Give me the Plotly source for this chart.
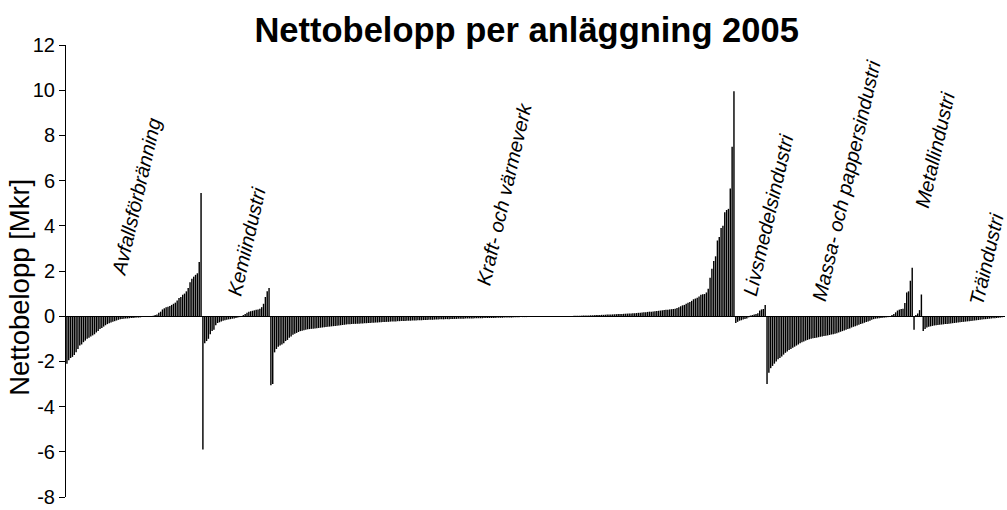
import plotly.graph_objects as go

# ---- data, each group sorted as drawn ----
groups = ["Avfallsförbränning", "Kemiindustri", "Kraft- och värmeverk",
          "Livsmedelsindustri", "Massa- och pappersindustri", "Metallindustri",
          "Övrigt", "Träindustri"]

avfall = [-2.1, -1.95, -1.85, -1.8, -1.72, -1.6, -1.45, -1.3, -1.25, -1.15,
          -1.08, -1.0, -0.95, -0.9, -0.85, -0.8, -0.72, -0.65, -0.57, -0.52,
          -0.46, -0.4, -0.35, -0.31, -0.28, -0.25, -0.22, -0.19, -0.16, -0.14,
          -0.12, -0.11, -0.1, -0.1, -0.09, -0.08, -0.08, -0.07, -0.06, -0.06,
          -0.05, -0.04, -0.04, -0.03, -0.02, -0.01,
          0.01, 0.02, 0.05, 0.08, 0.15, 0.2, 0.3, 0.35, 0.4, 0.42,
          0.45, 0.5, 0.55, 0.6, 0.7, 0.8, 0.85, 0.95, 1.0, 1.1,
          1.25, 1.5, 1.66, 1.75, 1.83, 1.9, 2.4, 5.45]

kemi = [-5.9, -1.2, -1.1, -1.0, -0.8, -0.65, -0.6, -0.4, -0.3, -0.27,
        -0.24, -0.2, -0.18, -0.16, -0.14, -0.13, -0.11, -0.1, -0.08, -0.06,
        -0.04, -0.02, 0.05, 0.1, 0.15, 0.2, 0.22, 0.24, 0.26, 0.28,
        0.3, 0.33, 0.4, 0.55, 0.85, 1.1, 1.25]

kraft = [-3.05, -3.0, -1.6, -1.45, -1.35, -1.3, -1.25, -1.2, -1.1, -1.05,
         -0.95, -0.9, -0.82, -0.78, -0.74, -0.7, -0.66, -0.64, -0.62, -0.6,
         -0.58, -0.57, -0.56, -0.55, -0.54, -0.53, -0.52, -0.51, -0.5, -0.49,
         -0.48, -0.47, -0.46, -0.45, -0.44, -0.43, -0.42, -0.41, -0.4, -0.39,
         -0.38, -0.37, -0.36, -0.36, -0.35, -0.34, -0.34, -0.33, -0.33, -0.32,
         -0.32, -0.31, -0.31, -0.3, -0.3, -0.29, -0.29, -0.28, -0.28, -0.27,
         -0.27, -0.26, -0.26, -0.25, -0.25, -0.24, -0.24, -0.23, -0.23, -0.22,
         -0.22, -0.21, -0.21, -0.21, -0.2, -0.2, -0.2, -0.19, -0.19, -0.19,
         -0.18, -0.18, -0.18, -0.17, -0.17, -0.17, -0.16, -0.16, -0.16, -0.15,
         -0.15, -0.15, -0.14, -0.14, -0.14, -0.13, -0.13, -0.13, -0.12, -0.12,
         -0.12, -0.12, -0.11, -0.11, -0.11, -0.11, -0.1, -0.1, -0.1, -0.1,
         -0.1, -0.09, -0.09, -0.09, -0.09, -0.09, -0.08, -0.08, -0.08, -0.08,
         -0.08, -0.08, -0.08, -0.07, -0.07, -0.07, -0.07, -0.06, -0.06, -0.06,
         -0.06, -0.06, -0.05, -0.05, -0.05, -0.05, -0.04, -0.04, -0.04, -0.04,
         -0.03, -0.03, -0.03, -0.03, -0.02, -0.02, -0.02, -0.02, -0.01, -0.01,
         -0.01, -0.01, -0.01, -0.005, -0.005, -0.005, -0.002, 0.0, 0.0, 0.002,
         0.005, 0.005, 0.01, 0.01, 0.01, 0.015, 0.015, 0.02, 0.02, 0.025,
         0.03, 0.03, 0.03, 0.035, 0.04, 0.04, 0.045, 0.05, 0.05, 0.055,
         0.06, 0.06, 0.065, 0.07, 0.07, 0.075, 0.08, 0.085, 0.09, 0.095,
         0.1, 0.1, 0.105, 0.11, 0.115, 0.12, 0.125, 0.13, 0.135, 0.14,
         0.15, 0.15, 0.16, 0.17, 0.18, 0.19, 0.2, 0.2, 0.21, 0.22,
         0.23, 0.24, 0.25, 0.26, 0.27, 0.28, 0.29, 0.3, 0.31, 0.32,
         0.33, 0.36, 0.4, 0.44, 0.48, 0.5, 0.55, 0.6, 0.63, 0.68,
         0.75, 0.78, 0.82, 0.87, 0.95, 0.97, 0.98, 1.05, 1.22, 1.7,
         2.1, 2.44, 2.65, 3.35, 3.5, 3.9, 4.0, 4.6, 4.7, 4.75,
         5.65, 7.5, 9.95]

livsmedel = [-0.3, -0.25, -0.2, -0.18, -0.15, -0.12, -0.1, -0.05, 0.03, 0.05,
             0.08, 0.1, 0.13, 0.25, 0.3, 0.32, 0.5]

massa = [-3.0, -2.5, -2.3, -2.2, -2.1, -2.0, -1.9, -1.85, -1.78, -1.7,
         -1.62, -1.56, -1.5, -1.45, -1.4, -1.35, -1.3, -1.25, -1.2, -1.15,
         -1.12, -1.08, -1.05, -1.02, -1.0, -0.98, -0.97, -0.95, -0.93, -0.91,
         -0.9, -0.88, -0.87, -0.85, -0.83, -0.81, -0.8, -0.78, -0.75, -0.72,
         -0.69, -0.66, -0.63, -0.6, -0.57, -0.54, -0.5, -0.47, -0.44, -0.41,
         -0.38, -0.35, -0.32, -0.29, -0.26, -0.24, -0.2, -0.16, -0.13, -0.11,
         -0.1, -0.09, -0.08, -0.07, -0.06, -0.05, -0.04, -0.03]

metall = [0.05, 0.1, 0.17, 0.25, 0.29, 0.32, 0.33, 0.58, 1.05, 1.1, 1.57, 2.14]

ovrigt = [-0.6, 0.05, 0.12, 0.27, 0.96]

tra = [-0.65, -0.57, -0.5, -0.47, -0.45, -0.43, -0.41, -0.4, -0.39, -0.38,
       -0.37, -0.36, -0.35, -0.34, -0.33, -0.32, -0.31, -0.3, -0.29, -0.28,
       -0.27, -0.26, -0.25, -0.24, -0.23, -0.22, -0.21, -0.2, -0.19, -0.18,
       -0.17, -0.16, -0.15, -0.14, -0.13, -0.12, -0.11, -0.1, -0.09, -0.09,
       -0.08, -0.07, -0.06, -0.05, -0.04]

series = [avfall, kemi, kraft, livsmedel, massa, metall, ovrigt, tra]

y_ticks = [-8, -6, -4, -2, 0, 2, 4, 6, 8, 10, 12]
y_tick_labels = ["-8", "-6", "-4", "-2", "0", "2", "4", "6", "8", "10", "12"]

# ---- build the figure ----
values = [v for s in series for v in s]
idx = list(range(len(values)))
starts = []
pos = 0
for s in series:
    starts.append(pos)
    pos += len(s)

fig = go.Figure()
fig.add_trace(go.Bar(x=idx, y=values,
                     marker=dict(color="rgba(0,0,0,0.999)", line=dict(width=0)),
                     showlegend=False))

# label placement: (group index, offset from group start in bars, y value)
label_place = [(0, 38, 5.3), (1, 23.5, 3.3), (2, 127, 5.4), (3, 17.5, 4.5),
               (4, 43, 6.0), (5, 23.4, 7.35), (7, 34.3, 2.55)]
for gi, off, yv in label_place:
    fig.add_annotation(x=starts[gi] + off, y=yv, xref="x", yref="y",
                       text=groups[gi], showarrow=False, textangle=-77,
                       xanchor="center", yanchor="middle",
                       font=dict(family="Liberation Sans", size=20, color="black",
                                 style="italic"))

# y-axis title as a rotated annotation left of the tick labels
fig.add_annotation(x=-0.049, y=0.465, xref="paper", yref="paper",
                   text="Nettobelopp [Mkr]", showarrow=False, textangle=-90,
                   xanchor="center", yanchor="middle",
                   font=dict(family="Liberation Sans", size=27.5, color="black"))

fig.update_layout(
    width=1007, height=510,
    margin=dict(l=66, r=2, t=45, b=7),
    paper_bgcolor="white", plot_bgcolor="white",
    bargap=0.22,
    font=dict(family="Liberation Sans", color="black"),
    title=dict(text="<b>Nettobelopp per anläggning 2005</b>",
               font=dict(family="Liberation Sans", size=34.5, color="black"),
               x=0.523, xanchor="center", xref="container",
               y=1 - 30 / 510, yanchor="middle", yref="container"),
)
fig.update_xaxes(range=[-0.5, len(values) - 0.5], showticklabels=False,
                 showgrid=False, zeroline=False, showline=False, ticks="")
fig.update_yaxes(range=[-8, 12], tickvals=y_ticks, ticktext=y_tick_labels,
                 ticks="outside", ticklen=6,
                 tickcolor="black", showline=True, linecolor="black", linewidth=1,
                 showgrid=False, zeroline=True, zerolinecolor="black", zerolinewidth=1,
                 ticklabeloverflow="allow",
                 tickfont=dict(family="Liberation Sans", size=20, color="black"))

fig.write_html("out.html", config={"displayModeBar": False},
               post_script="document.body.style.margin='0';")
